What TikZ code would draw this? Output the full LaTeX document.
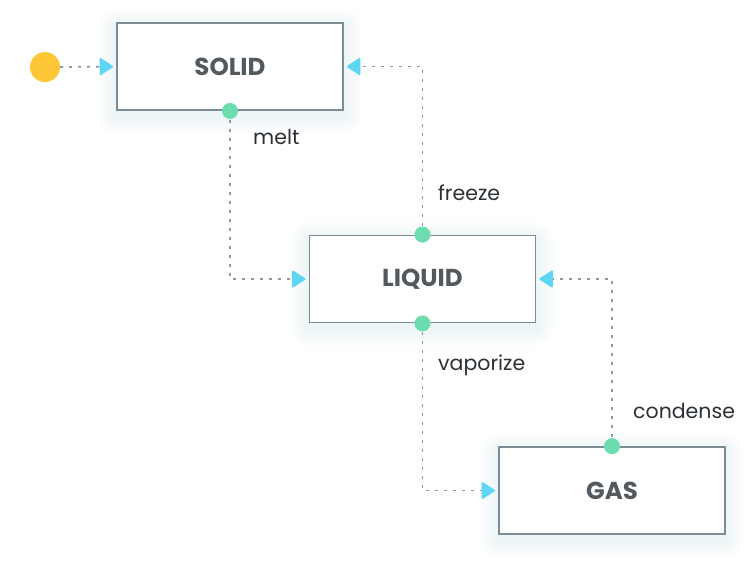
\documentclass[tikz,border=0pt]{standalone}
\usepackage{fontspec}
\setmainfont{Poppins}
\usetikzlibrary{arrows.meta,backgrounds,calc}
\definecolor{boxline}{HTML}{7A8C94}
\definecolor{dashc}{HTML}{8C9AA3}
\definecolor{tipc}{HTML}{5DD5F5}
\definecolor{dotc}{HTML}{6DDCAE}
\definecolor{startc}{HTML}{FDC738}
\definecolor{boxtext}{HTML}{52595F}
\definecolor{labtext}{HTML}{2C3135}
\definecolor{shadowc}{HTML}{C4D4EC}
\tikzset{
  state/.style={draw=boxline, line width=1.8pt, fill=white, minimum width=226pt, minimum height=87pt, inner sep=0pt, font=\fontsize{24.5}{28}\selectfont\bfseries, text=boxtext},
  conn/.style={draw=dashc, line width=1.8pt, dash pattern=on 3pt off 6pt, shorten >=3pt,
    -{Triangle[length=14pt,width=18pt,round,color=tipc,fill=tipc,line width=1.5pt]}},
  port/.style={circle, fill=dotc, minimum size=16pt, inner sep=0pt},
  lab/.style={anchor=west, font=\fontsize{20.5}{24}\selectfont, text=labtext, inner sep=0pt}
}
\begin{document}
\begin{tikzpicture}[x=1pt,y=-1pt]
\useasboundingbox (0,0) rectangle (756,574);
\node[state] (solid) at (230,66.5) {SOLID};
\node[state] (liquid) at (422.5,279) {LIQUID};
\node[state] (gas) at (612,490.5) {GAS};
\node[circle, fill=startc, minimum size=30pt, inner sep=0pt] (start) at (45,67) {};
\begin{scope}[on background layer]
\fill[white] (0,0) rectangle (756,574);
\foreach \n in {solid,liquid,gas}{
  \foreach \i in {2,4,...,18}{
    \fill[shadowc, opacity=0.025, rounded corners=\i pt]
      ([xshift=-\i pt, yshift=\i pt-5pt]\n.north west) rectangle ([xshift=\i pt, yshift=-\i pt-5pt]\n.south east);
  }
}
\end{scope}
\draw[conn] (start.east) -- (solid.west);
\draw[conn] (solid.south) |- (liquid.west);
\draw[conn] (liquid.north) |- (solid.east);
\draw[conn] (liquid.south) |- (gas.west);
\draw[conn] (gas.north) |- (liquid.east);
\node[port] (p1) at (solid.south) {};
\node[port] (p2) at (liquid.north) {};
\node[port] (p3) at (liquid.south) {};
\node[port] (p4) at (gas.north) {};
\node[lab] (l1) at (253,137) {melt};
\node[lab] (l2) at (438,193) {freeze};
\node[lab] (l3) at (438,365) {vaporize};
\node[lab] (l4) at (633,411) {condense};
\end{tikzpicture}
\end{document}
